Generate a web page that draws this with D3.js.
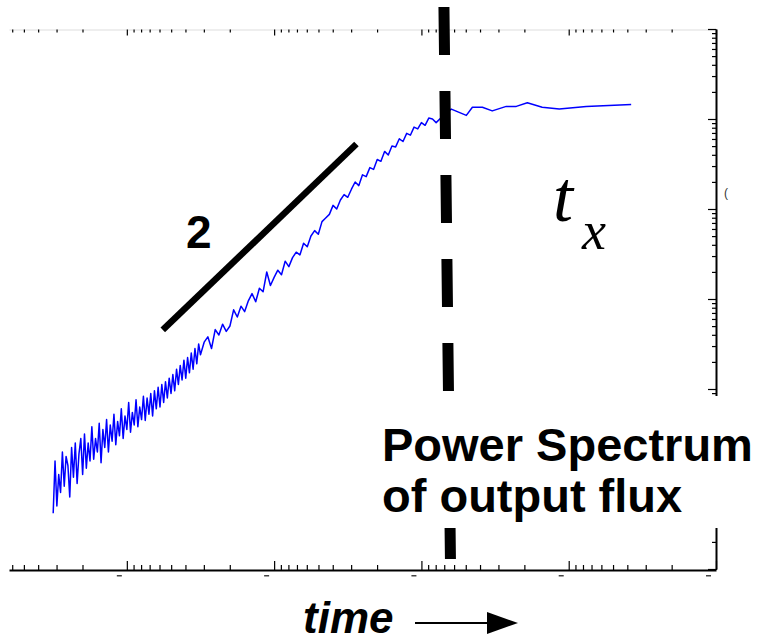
<!DOCTYPE html>
<html><head><meta charset="utf-8">
<script src="https://cdn.jsdelivr.net/npm/d3@7"></script>
<style>html,body{margin:0;padding:0;background:#fff;} svg{display:block}</style>
</head><body><svg id="c" width="761" height="643"></svg>
<script>
// ---- data (log10 units) ----
// rising, noisy part of the spectrum: x = log10(axis value), y = log10(power)
const riseLogX = [4.5000,4.4875,4.4750,4.4625,4.4500,4.4375,4.4250,4.4125,4.4000,4.3875,
  4.3750,4.3625,4.3500,4.3375,4.3250,4.3125,4.3000,4.2875,4.2750,4.2625,
  4.2500,4.2375,4.2250,4.2125,4.2000,4.1875,4.1750,4.1625,4.1500,4.1375,
  4.1250,4.1125,4.1000,4.0875,4.0750,4.0625,4.0500,4.0375,4.0250,4.0125,
  4.0000,3.9875,3.9750,3.9625,3.9500,3.9375,3.9250,3.9125,3.9000,3.8875,
  3.8750,3.8625,3.8500,3.8375,3.8250,3.8125,3.8000,3.7875,3.7750,3.7625,
  3.7500,3.7375,3.7250,3.7125,3.7000,3.6875,3.6750,3.6625,3.6500,3.6375,
  3.6250,3.6125,3.6000,3.5875,3.5750,3.5625,3.5500,3.5375,3.5250,3.5125,
  3.500,3.475,3.450,3.425,3.400,3.375,3.350,3.325,3.300,3.275,
  3.250,3.225,3.200,3.175,3.150,3.125,3.100,3.075,3.050,3.025,
  3.000,2.975,2.950,2.925,2.900,2.875,2.850,2.825,2.800,2.775,
  2.750,2.725,2.700,2.675,2.650,2.625,2.600,2.575,2.550,2.525,
  2.500,2.475,2.450,2.425,2.400,2.375,2.350,2.325,2.300,2.275,
  2.250,2.225,2.200,2.175,2.150,2.125,2.100,2.075,2.050,2.025,
  2.000,1.975,1.950,1.925,1.900];
const riseLogY = [0.62,1.20,0.70,1.05,0.85,1.30,0.92,1.25,1.15,0.80,
  1.35,1.02,1.40,0.95,1.28,1.45,1.05,1.50,1.12,1.40,
  1.20,1.58,1.22,1.45,1.30,1.62,1.18,1.55,1.35,1.66,
  1.30,1.60,1.42,1.72,1.38,1.64,1.48,1.78,1.45,1.70,
  1.55,1.85,1.52,1.74,1.60,1.88,1.58,1.80,1.66,1.92,
  1.65,1.90,1.72,1.95,1.70,1.98,1.78,2.02,1.80,2.05,
  1.85,2.08,1.90,2.12,1.95,2.16,1.98,2.22,2.05,2.26,
  2.10,2.32,2.12,2.35,2.18,2.40,2.22,2.45,2.28,2.50,
  2.38,2.52,2.58,2.45,2.66,2.60,2.72,2.64,2.70,2.88,
  2.80,2.92,2.86,2.98,3.06,2.97,3.12,3.08,3.30,3.15,
  3.24,3.32,3.27,3.42,3.36,3.46,3.52,3.49,3.62,3.58,
  3.70,3.76,3.72,3.86,3.90,3.94,4.04,4.00,4.10,4.16,
  4.13,4.22,4.30,4.26,4.38,4.36,4.46,4.44,4.55,4.53,
  4.64,4.60,4.70,4.69,4.78,4.75,4.84,4.82,4.91,4.89,
  4.96,4.93,5.01,5.00,4.96];
// saturated, flat part
const flatLogX = [1.844,1.797,1.695,1.654,1.586,1.519,1.424,1.356,1.281,1.180,1.064,0.881,0.576];
const flatLogY = [5.05,5.11,5.04,5.13,5.13,5.09,5.14,5.14,5.18,5.13,5.11,5.14,5.16];

// axis tick definitions
const xMajorExp = [0,1,2,3,4];
const yMajorExp = [0,1,2,3,4,5,6];
const minorMult = [2,3,4,5,6,7,8,9];
const xDomainExp = [4.8, 0];
const yDomainExp = [0, 6];

// annotations (log10 units)
const slopeSeg = {x:[3.756, 2.441], y:[2.656, 4.722], label:"2"};
const crossover = {x:[1.847, 1.803], y:[6.244, 0.111]};
const labelLines = ["Power Spectrum", "of output flux"];
const xTitle = "time";
const crossLabelMain = "t", crossLabelSub = "x";

// ---- drawing ----
const svg = d3.select("#c");
const x = d3.scaleLog().domain(xDomainExp.map(e=>10**e)).range([9, 716]);
const y = d3.scaleLog().domain(yDomainExp.map(e=>10**e)).range([569, 29]);

const xMaj = xMajorExp.map(n=>10**n);
const xMin = [];
xMajorExp.forEach(n=>minorMult.forEach(k=>{const v=k*10**n; if(v<=10**xDomainExp[0]) xMin.push(v);}));
const yMaj = yMajorExp.map(n=>10**n);
const yMin = [];
yMajorExp.slice(0,-1).forEach(n=>minorMult.forEach(k=>yMin.push(k*10**n)));

function styleAxis(g, dom, w){
  g.select(".domain").attr("stroke", dom).attr("stroke-width", w);
  g.selectAll(".tick line").attr("stroke", "#000").attr("stroke-width", 1.2);
  g.selectAll(".tick text").remove();
}
// top axis (light frame line)
const gt = svg.append("g").attr("transform","translate(0,29.5)");
gt.append("g").call(d3.axisBottom(x).tickValues(xMaj).tickSize(6).tickSizeOuter(0).tickFormat("")).call(g=>styleAxis(g,"#e8e8e8",1.5));
gt.append("g").call(d3.axisBottom(x).tickValues(xMin).tickSize(3).tickSizeOuter(0).tickFormat("")).call(g=>g.select(".domain").remove()).call(g=>styleAxis(g,"none",0));
// bottom axis
const gb = svg.append("g").attr("transform","translate(0,570)");
gb.append("g").call(d3.axisTop(x).tickValues(xMaj).tickSize(9).tickSizeOuter(0).tickFormat("")).call(g=>styleAxis(g,"#000",2));
gb.append("g").call(d3.axisTop(x).tickValues(xMin).tickSize(5).tickSizeOuter(0).tickFormat("")).call(g=>g.select(".domain").remove()).call(g=>styleAxis(g,"none",0));
// clipped tick-label fragments under bottom axis
gb.selectAll("rect.frag").data(xMaj).join("rect").attr("class","frag")
  .attr("x", d=>x(d)-10).attr("y", 5).attr("width", 5).attr("height", 1.5).attr("fill","#444");
// right axis
const gr = svg.append("g").attr("transform","translate(716,0)");
gr.append("g").call(d3.axisLeft(y).tickValues(yMaj).tickSize(8).tickSizeOuter(0).tickFormat("")).call(g=>styleAxis(g,"#000",2));
gr.append("g").call(d3.axisLeft(y).tickValues(yMin).tickSize(4).tickSizeOuter(0).tickFormat("")).call(g=>g.select(".domain").remove()).call(g=>styleAxis(g,"none",0));
svg.append("text").attr("x",724).attr("y",197).attr("font-family","Liberation Sans").attr("font-size",12).attr("fill","#333").text("(");

// spectrum line
const pts = riseLogX.map((v,i)=>[10**v, 10**riseLogY[i]])
  .concat(flatLogX.map((v,i)=>[10**v, 10**flatLogY[i]]));
svg.append("path").datum(pts)
  .attr("d", d3.line().x(d=>x(d[0])).y(d=>y(d[1])))
  .attr("fill","none").attr("stroke","#0000ff").attr("stroke-width",1.5).attr("stroke-linejoin","round");

// slope-2 guide
svg.append("line")
  .attr("x1", x(10**slopeSeg.x[0])).attr("y1", y(10**slopeSeg.y[0]))
  .attr("x2", x(10**slopeSeg.x[1])).attr("y2", y(10**slopeSeg.y[1]))
  .attr("stroke","#000").attr("stroke-width",6.5);
svg.append("text").attr("x",186).attr("y",248)
  .attr("font-family","Liberation Sans, Arial, sans-serif").attr("font-weight","bold").attr("font-size",46)
  .text(slopeSeg.label);

// crossover dashed line
svg.append("line")
  .attr("x1", x(10**crossover.x[0])).attr("y1", 7)
  .attr("x2", x(10**crossover.x[1])).attr("y2", 559)
  .attr("stroke","#000").attr("stroke-width",11).attr("stroke-dasharray","48 36");

// t_x label
const tx = svg.append("text").attr("font-family","Liberation Serif, Times New Roman, serif").attr("font-style","italic");
tx.append("tspan").attr("x",553).attr("y",221).attr("font-size",72).text(crossLabelMain);
tx.append("tspan").attr("x",582).attr("y",249).attr("font-size",54).text(crossLabelSub);

// label with white background
svg.append("rect").attr("x",375).attr("y",396).attr("width",386).attr("height",132).attr("fill","#fff");
const lab = svg.append("text").attr("font-family","Liberation Sans, Arial, sans-serif").attr("font-weight","bold").attr("font-size",47);
labelLines.forEach((s,i)=>lab.append("tspan").attr("x",382).attr("y",461+i*51).text(s));

// x title with arrow
svg.append("text").attr("x",303).attr("y",633)
  .attr("font-family","Liberation Sans, Arial, sans-serif").attr("font-weight","bold").attr("font-style","italic").attr("font-size",44)
  .text(xTitle);
svg.append("line").attr("x1",415).attr("y1",623).attr("x2",490).attr("y2",623).attr("stroke","#000").attr("stroke-width",2);
svg.append("path").attr("d","M487,612 L518,623 L487,634 Z").attr("fill","#000");
</script></body></html>
